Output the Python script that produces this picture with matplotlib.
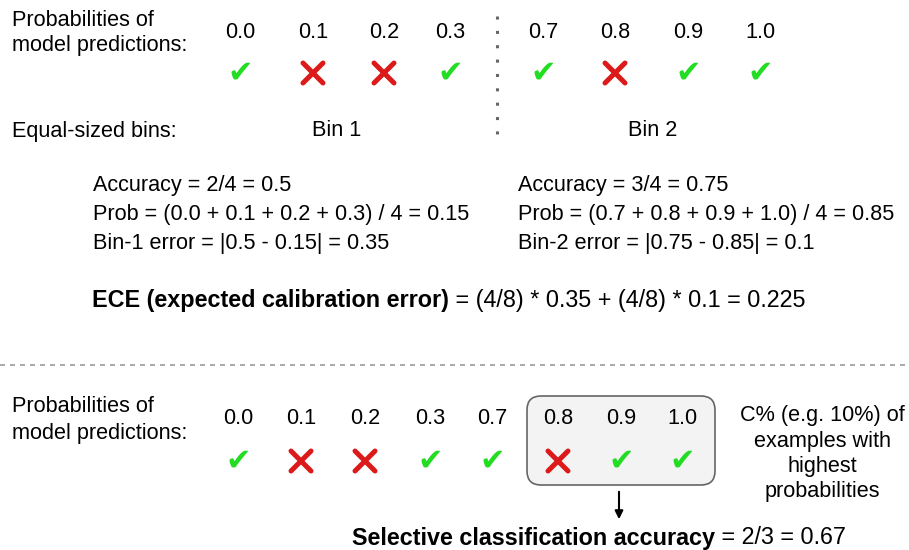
import matplotlib
matplotlib.use("Agg")
import matplotlib.pyplot as plt
from matplotlib.patches import FancyBboxPatch

plt.rcParams['font.family'] = ['Liberation Sans', 'DejaVu Sans']

# podaci
probs_top = ["0.0", "0.1", "0.2", "0.3", "0.7", "0.8", "0.9", "1.0"]
correct_top = [True, False, False, True, True, False, True, True]
x_top = [240, 313, 384, 450, 543, 615, 688, 760]

probs_bot = ["0.0", "0.1", "0.2", "0.3", "0.7", "0.8", "0.9", "1.0"]
correct_bot = [True, False, False, True, True, False, True, True]
x_bot = [238, 301, 365, 430, 492, 558, 621, 682]

bin1_lines = ["Accuracy = 2/4 = 0.5",
              "Prob = (0.0 + 0.1 + 0.2 + 0.3) / 4 = 0.15",
              "Bin-1 error = |0.5 - 0.15| = 0.35"]
bin2_lines = ["Accuracy = 3/4 = 0.75",
              "Prob = (0.7 + 0.8 + 0.9 + 1.0) / 4 = 0.85",
              "Bin-2 error = |0.75 - 0.85| = 0.1"]
right_note = ["C% (e.g. 10%) of", "examples with", "highest", "probabilities"]

FS = 15.6
FS_BIG = 16.8
GREEN = "#22dd22"
RED = "#dd1a1a"

fig = plt.figure(figsize=(9.09, 5.5), dpi=100)
ax = fig.add_axes([0, 0, 1, 1])
ax.set_xlim(0, 909)
ax.set_ylim(550, 0)
ax.axis("off")


def mark(x, y, ok):
    if ok:
        ax.text(x, y, "\u2714", fontsize=22, color=GREEN, ha="center", va="center",
                family="DejaVu Sans", style="oblique")
    else:
        d = 10
        ax.plot([x - d, x + d], [y - d, y + d], color=RED, lw=3.6, solid_capstyle="round")
        ax.plot([x - d, x + d], [y + d, y - d], color=RED, lw=3.6, solid_capstyle="round")


def mixed(x, y, bold, rest, fs):
    t = ax.text(x, y, bold, fontsize=fs, fontweight="bold", ha="left", va="center")
    fig.canvas.draw()
    bb = t.get_window_extent().transformed(ax.transData.inverted())
    ax.text(bb.x1, y, rest, fontsize=fs, ha="left", va="center")


# gornji dio
ax.text(12, 20, "Probabilities of", fontsize=FS, va="center")
ax.text(12, 46, "model predictions:", fontsize=FS, va="center")
for x, p, ok in zip(x_top, probs_top, correct_top):
    ax.text(x, 33, p, fontsize=FS, ha="center", va="center")
    mark(x, 73, ok)
ax.plot([497, 497], [16, 142], color="#666666", lw=2.2, linestyle=(0, (1, 3.7)),
        dash_capstyle="butt")
ax.text(12, 131, "Equal-sized bins:", fontsize=FS, va="center")
ax.text(337, 131, "Bin 1", fontsize=FS, ha="center", va="center")
ax.text(653, 131, "Bin 2", fontsize=FS, ha="center", va="center")

for i, (a, b) in enumerate(zip(bin1_lines, bin2_lines)):
    y = 186 + i * 28.5
    ax.text(93, y, a, fontsize=FS, va="center")
    ax.text(518, y, b, fontsize=FS, va="center")

mixed(92, 300, "ECE (expected calibration error)", " = (4/8) * 0.35 + (4/8) * 0.1 = 0.225", FS_BIG)

ax.plot([0, 909], [365, 365], color="#999999", lw=1.2, linestyle=(0, (3, 3)))

# donji dio
ax.text(12, 406, "Probabilities of", fontsize=FS, va="center")
ax.text(12, 433, "model predictions:", fontsize=FS, va="center")
box = FancyBboxPatch((527, 396), 188, 89, boxstyle="round,pad=0,rounding_size=14",
                     facecolor="#f3f3f3", edgecolor="#666666", lw=1.2)
ax.add_patch(box)
for x, p, ok in zip(x_bot, probs_bot, correct_bot):
    ax.text(x, 418, p, fontsize=FS, ha="center", va="center")
    mark(x, 461, ok)

for i, line in enumerate(right_note):
    ax.text(822, 416 + i * 25.3, line, fontsize=FS, ha="center", va="center")

ax.annotate("", xy=(619, 522), xytext=(619, 489),
            arrowprops=dict(arrowstyle="-|>", color="black", lw=1.5, mutation_scale=12))

mixed(352, 538, "Selective classification accuracy", " = 2/3 = 0.67", FS_BIG)

fig.savefig("out.png", dpi=100)
